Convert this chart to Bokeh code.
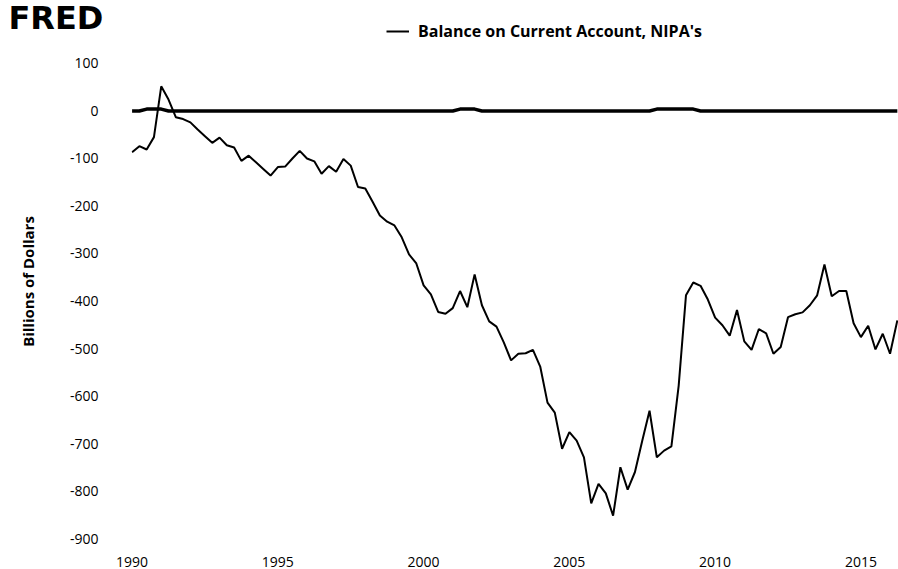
from bokeh.plotting import figure
from bokeh.models import Legend, LegendItem, FixedTicker, Range1d, ColumnDataSource, PrintfTickFormatter
from bokeh.embed import file_html
from bokeh.resources import INLINE

# ---- data ----
start_year = 1990
series_name = "Balance on Current Account, NIPA's"
y_label = "Billions of Dollars"

balance = [
    -87, -74, -81, -55,      # 1990
    52, 24, -13, -17,        # 1991
    -24, -39, -53, -67,      # 1992
    -56, -72, -77, -105,     # 1993
    -94, -108, -122, -136,   # 1994
    -118, -117, -100, -84,   # 1995
    -100, -106, -132, -116,  # 1996
    -128, -101, -115, -160,  # 1997
    -163, -191, -220, -233,  # 1998
    -241, -266, -302, -321,  # 1999
    -367, -386, -423, -427,  # 2000
    -415, -379, -413, -344,  # 2001
    -409, -443, -454, -487,  # 2002
    -525, -511, -510, -503,  # 2003
    -538, -614, -635, -711,  # 2004
    -676, -694, -729, -826,  # 2005
    -785, -805, -852, -750,  # 2006
    -797, -760, -694, -631,  # 2007
    -729, -715, -706, -578,  # 2008
    -388, -361, -368, -397,  # 2009
    -435, -451, -473, -419,  # 2010
    -485, -503, -459, -468,  # 2011
    -511, -497, -434, -428,  # 2012
    -424, -409, -388, -323,  # 2013
    -390, -379, -379, -447,  # 2014
    -476, -452, -502, -469,  # 2015
    -511, -441,              # 2016
]

# flat line near zero with small bumps (recession periods)
recession = [0] * len(balance)
for i in list(range(2, 5)) + list(range(45, 48)) + list(range(72, 78)):
    recession[i] = 4

quarters = [start_year + i / 4 for i in range(len(balance))]

y_ticks = [100, 0, -100, -200, -300, -400, -500, -600, -700, -800, -900]
x_ticks = [1990, 1995, 2000, 2005, 2010, 2015]

src = ColumnDataSource(dict(x=quarters, bal=balance, rec=recession))

# ---- figure ----
p = figure(width=898, height=569, output_backend="svg", toolbar_location=None,
           x_range=Range1d(1989.98, 2016.29), y_range=Range1d(-908.4, 190.5),
           min_border_left=131, min_border_right=0, min_border_top=20, min_border_bottom=27,
           background_fill_color="white", border_fill_color="white",
           title="FRED")
p.outline_line_color = None
p.xgrid.grid_line_color = None
p.ygrid.grid_line_color = None

# logo-like title, placed in the top-left corner
p.title.align = "left"
p.title.vertical_align = "top"
p.title.offset = -123
p.title.standoff = -43
p.title.text_font = "DejaVu Sans"
p.title.text_font_style = "bold"
p.title.text_font_size = "32px"
p.title.text_color = "black"

r_rec = p.line("x", "rec", source=src, line_color="black", line_width=3.5)
r_bal = p.line("x", "bal", source=src, line_color="black", line_width=2)

font = "Open Sans"
for ax in (p.xaxis[0], p.yaxis[0]):
    ax.axis_line_color = None
    ax.major_tick_line_color = None
    ax.minor_tick_line_color = None
    ax.major_label_text_font = font
    ax.major_label_text_font_size = "14px"
    ax.major_label_text_color = "black"

p.xaxis[0].ticker = FixedTicker(ticks=x_ticks)
p.xaxis[0].major_label_standoff = 8
p.yaxis[0].ticker = FixedTicker(ticks=y_ticks)
p.yaxis[0].formatter = PrintfTickFormatter(format="%d")
p.yaxis[0].major_label_standoff = 27
p.yaxis[0].axis_label = y_label
p.yaxis[0].axis_label_text_font = font
p.yaxis[0].axis_label_text_font_size = "15px"
p.yaxis[0].axis_label_text_font_style = "bold"
p.yaxis[0].axis_label_text_color = "black"
p.yaxis[0].axis_label_standoff = 29

legend = Legend(items=[LegendItem(label=series_name, renderers=[r_bal])],
                location=(255, 500), orientation="horizontal",
                label_text_font=font, label_text_font_size="16px",
                label_text_font_style="bold", label_text_color="black",
                glyph_width=23, glyph_height=16, label_height=16, label_standoff=9,
                padding=0, margin=0, border_line_color=None, background_fill_alpha=0)
p.add_layout(legend)

open("out.html", "w").write(file_html(p, INLINE))
